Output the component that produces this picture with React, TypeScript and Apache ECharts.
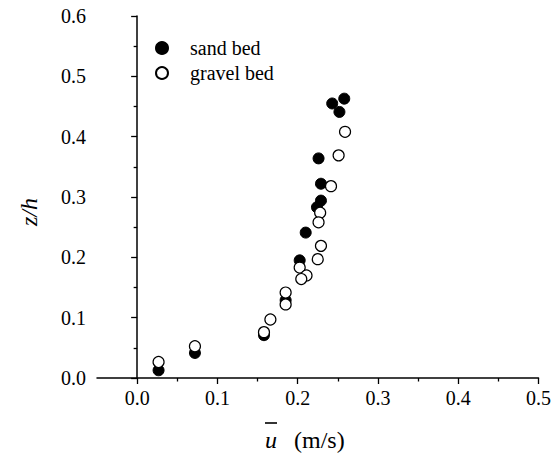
import React, { useEffect, useRef } from "react";
import * as echarts from "echarts";

const sandU = [0.258, 0.243, 0.252, 0.226, 0.229, 0.229, 0.224, 0.210, 0.2025, 0.185, 0.158, 0.072, 0.0267];
const sandZ = [0.463, 0.455, 0.441, 0.364, 0.322, 0.294, 0.283, 0.241, 0.195, 0.129, 0.071, 0.0415, 0.0128];
const gravelU = [0.259, 0.251, 0.2415, 0.228, 0.226, 0.229, 0.225, 0.2025, 0.211, 0.2045, 0.185, 0.185, 0.166, 0.158, 0.072, 0.0267];
const gravelZ = [0.408, 0.369, 0.318, 0.274, 0.258, 0.219, 0.197, 0.183, 0.170, 0.164, 0.1416, 0.122, 0.097, 0.076, 0.0526, 0.0265];
const xMajorTicks = [0, 0.1, 0.2, 0.3, 0.4, 0.5];
const xMinorTicks = [0.05, 0.15, 0.25, 0.35, 0.45];
const seriesNames = ["sand bed", "gravel bed"];

const FAMILY = "Liberation Serif";

export default function App() {
  const ref = useRef<HTMLDivElement>(null);
  useEffect(() => {
    if (!ref.current) return;
    const chart = echarts.init(ref.current, null, { renderer: "svg" });
    const axisLine = { show: true, lineStyle: { color: "#000", width: 1.5 } };
    chart.setOption({
      animation: false,
      backgroundColor: "#fff",
      textStyle: { fontFamily: FAMILY },
      grid: { left: 97, right: 11, top: 16, bottom: 76, containLabel: false },
      legend: {
        orient: "vertical",
        left: 150,
        top: 33,
        itemWidth: 12,
        itemHeight: 12,
        itemGap: 5,
        data: seriesNames,
        textStyle: { fontFamily: FAMILY, fontSize: 20, color: "#000", lineHeight: 20, padding: [0, 0, 0, 17] },
      },
      xAxis: [
        {
          type: "value",
          min: -0.05,
          max: 0.5,
          interval: 0.05,
          axisLine,
          splitLine: { show: false },
          axisTick: { show: true, length: 6, customValues: xMajorTicks, lineStyle: { color: "#000", width: 1.3 } },
          axisLabel: {
            customValues: xMajorTicks,
            formatter: (v: number) => v.toFixed(1),
            fontFamily: FAMILY,
            fontSize: 20,
            color: "#000",
            margin: 10,
          },
        },
        {
          type: "value",
          min: -0.05,
          max: 0.5,
          interval: 0.05,
          position: "bottom",
          axisLine: { show: false },
          splitLine: { show: false },
          axisTick: { show: true, length: 3.5, customValues: xMinorTicks, lineStyle: { color: "#000", width: 1.3 } },
          axisLabel: { show: false },
        },
      ],
      yAxis: {
        type: "value",
        min: 0,
        max: 0.6,
        interval: 0.1,
        axisLine,
        splitLine: { show: false },
        axisTick: { show: true, length: 6, lineStyle: { color: "#000", width: 1.3 } },
        minorTick: { show: true, splitNumber: 2, length: 3.5, lineStyle: { color: "#000", width: 1.3 } },
        minorSplitLine: { show: false },
        axisLabel: {
          formatter: (v: number) => v.toFixed(1),
          fontFamily: FAMILY,
          fontSize: 20,
          color: "#000",
          margin: 11,
        },
      },
      series: [
        {
          name: seriesNames[0],
          type: "scatter",
          xAxisIndex: 0,
          symbol: "circle",
          symbolSize: 11,
          itemStyle: { color: "#000", borderColor: "#000", borderWidth: 1, opacity: 1 },
          data: sandU.map((u, i) => [u, sandZ[i]]),
        },
        {
          name: seriesNames[1],
          type: "scatter",
          xAxisIndex: 0,
          symbol: "circle",
          symbolSize: 11,
          itemStyle: { color: "#fff", borderColor: "#000", borderWidth: 1.2, opacity: 1 },
          data: gravelU.map((u, i) => [u, gravelZ[i]]),
        },
      ],
      graphic: [
        {
          type: "text",
          x: 271,
          y: 440,
          style: { text: "u", fontFamily: FAMILY, fontSize: 24, fontStyle: "italic", fill: "#000", align: "center", verticalAlign: "middle" },
        },
        {
          type: "line",
          shape: { x1: 265, y1: 423, x2: 277, y2: 423 },
          style: { stroke: "#000", lineWidth: 1.6 },
        },
        {
          type: "text",
          x: 294,
          y: 440,
          style: { text: "(m/s)", fontFamily: FAMILY, fontSize: 24, fill: "#000", align: "left", verticalAlign: "middle" },
        },
        {
          type: "text",
          x: 29,
          y: 212,
          rotation: Math.PI / 2,
          style: { text: "z/h", fontFamily: FAMILY, fontSize: 24, fontStyle: "italic", fill: "#000", align: "center", verticalAlign: "middle" },
        },
      ],
    });
    return () => chart.dispose();
  }, []);
  return <div ref={ref} style={{ width: 554, height: 454, position: "absolute", left: 0, top: 0 }} />;
}
